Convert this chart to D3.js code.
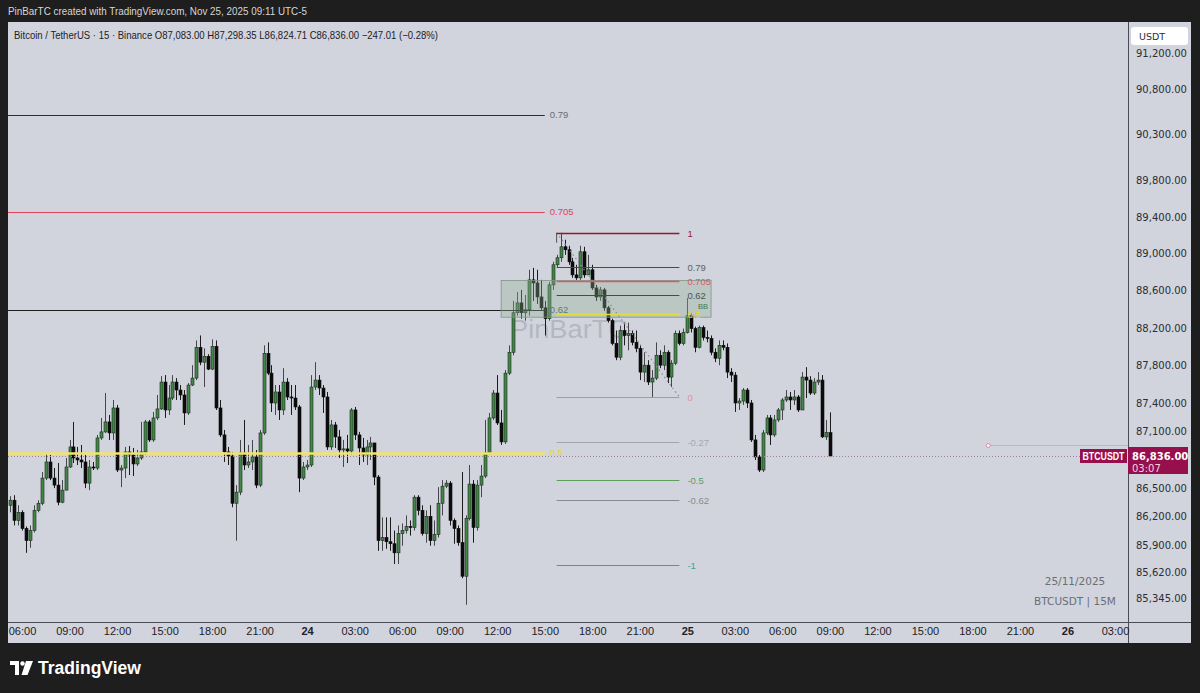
<!DOCTYPE html>
<html><head><meta charset="utf-8">
<script src="https://cdn.jsdelivr.net/npm/d3@7"></script>
<style>html,body{margin:0;padding:0;background:#1e1e1e;}svg{display:block;}</style>
</head><body>
<svg id="c" width="1200" height="693"></svg>
<script>
// ---------------- DATA ----------------
const closes = [
86370,86158,86243,86073,85946,86052,86264,86338,86603,86773,
86603,86529,86349,86476,86720,86932,86815,86794,86773,86550,
86720,86709,87027,87091,87197,87080,87345,86688,86709,86879,
86847,86752,86815,86879,87197,87006,87239,87335,87621,87324,
87451,87621,87536,87483,87292,87589,87663,87992,87833,87896,
87759,88002,87345,87059,86879,86836,86338,86455,86868,86741,
86773,86826,86529,87080,87928,87716,87398,87515,87324,87621,
87462,87451,87356,86603,86720,86741,87568,87642,87557,87462,
86932,87165,87038,86900,86911,86889,87324,87059,86921,86847,
86932,86974,86614,85946,85978,85935,85914,85819,86020,86052,
86094,86084,86402,86264,86020,86200,85946,86010,86338,86518,
86550,86158,86073,85925,85575,86179,86540,86084,86529,86624,
86868,87239,87504,87186,86985,87716,87939,88363,88469,88363,
88395,88717,88684,88533,88416,88299,88663,88880,88956,89075,
89043,88912,88771,88739,89021,88771,88826,88630,88533,88609,
88416,88278,88034,87886,88172,88119,88140,88045,87981,87727,
87801,87621,87663,87907,87801,87939,87674,87822,88140,88034,
88151,88331,88193,87992,88204,88098,88087,87939,87875,88013,
87992,87727,87695,87398,87419,87536,87398,87006,86826,86688,
87080,87239,87059,87218,87324,87430,87462,87430,87462,87324,
87674,87642,87504,87621,87642,87038,87083,86836
];
const highs = [
86412,86423,86317,86264,86094,86105,86317,86370,86667,86868,
86847,86709,86762,86582,86815,87006,87197,86932,86953,86847,
86794,86773,87059,87239,87504,87271,87430,87377,86741,86932,
86942,86921,86900,87197,87218,87218,87303,87483,87684,87695,
87589,87695,87663,87589,87536,87610,87801,88066,88119,87981,
87918,88077,88066,87430,87112,86932,86879,86529,87006,87218,
86953,87006,86900,87112,88013,88045,87801,87589,87589,87769,
87663,87589,87589,87377,86773,86794,87695,87833,87695,87589,
87515,87218,87197,87112,87006,87059,87345,87356,87091,87027,
87006,87038,86974,86635,86190,86190,86190,86052,86105,86126,
86211,86158,86423,86423,86317,86264,86317,86158,86508,86582,
86582,86571,86179,86105,86667,86211,86741,86582,86582,86741,
87218,87292,87536,87695,87324,87748,88013,88490,88587,88609,
88554,88826,88847,88826,88717,88490,88695,88912,88988,89227,
89151,89086,88956,88880,89086,89075,88988,88880,88663,88641,
88630,88437,88299,88172,88225,88257,88257,88172,88172,88013,
87939,87854,87748,88045,87960,88013,87960,87854,88172,88172,
88193,88522,88363,88214,88225,88225,88172,88119,87981,88066,
88066,88034,87769,87727,87451,87557,87557,87430,87059,86847,
87112,87271,87271,87271,87345,87451,87536,87515,87536,87483,
87727,87780,87684,87663,87727,87695,87218,87298.35
];
const lows = [
86243,86105,86105,86052,85819,85872,86031,86243,86317,86582,
86582,86497,86317,86338,86476,86709,86762,86741,86709,86497,
86476,86688,86688,87006,87080,87006,87006,86667,86508,86603,
86635,86624,86730,86794,86847,86985,86985,87218,87324,87239,
87271,87430,87430,87430,87165,87271,87578,87642,87801,87568,
87748,87748,87324,87038,86773,86741,86296,85946,86423,86688,
86709,86688,86497,86508,87059,87695,87303,87271,87218,87271,
87430,87271,87324,86455,86582,86688,86720,87536,87483,87292,
86900,86900,86921,86815,86720,86762,86847,87006,86741,86773,
86741,86794,86529,85840,85840,85861,85840,85702,85702,85893,
86020,85999,86052,86211,85999,85925,85893,85893,85978,86211,
86497,86105,85914,85893,85554,85278,86158,85925,86052,86402,
86603,86847,87218,87165,86953,86964,87695,87907,88331,88299,
88278,88331,88490,88458,88384,88119,88278,88609,88847,88912,
88988,88880,88739,88717,88717,88739,88771,88609,88490,88490,
88384,88257,88013,87854,87854,88013,87960,88013,87939,87642,
87621,87589,87462,87642,87769,87748,87610,87568,87801,88013,
88013,88140,88151,87939,87981,88066,88045,87907,87833,87801,
87960,87663,87621,87303,87324,87377,87345,86985,86794,86667,
86667,87059,86953,87038,87197,87218,87409,87324,87377,87303,
87345,87451,87483,87483,87589,87027,87006,86824.71
];
// each candle opens at the previous candle's close (continuous 24h market)
const firstOpen = 86317;
const opens = [firstOpen, ...closes.slice(0, -1)];

const priceTicks = [91200, 90800, 90300, 89800, 89400, 89000, 88600, 88200, 87800, 87400, 87100, 86500, 86200, 85900, 85620, 85345];

// Fibonacci retracement on the right (swing high / swing low)
const fibHigh = 89227, fibLow = 87462;
const fibLevels = [1, 0.79, 0.705, 0.62, 0.5, 0, -0.27, -0.5, -0.62, -1];
const fibLabels = ["1", "0.79", "0.705", "0.62", "0.5", "0", "-0.27", "-0.5", "-0.62", "-1"];
const fibColors = ["#8e1b2e", "#4a4a4e", "#e0566a", "#4a4a4e", "#e6dc3c", "#e57d8c", "#a3a5ad", "#5c9e5c", "#8a8b92", "#3aa39a"];
const fibLabelColors = ["#9c2236", "#5e5f66", "#e0566a", "#505158", "#e2d43a", "#e88e9a", "#a6a8b0", "#5c9e5c", "#8a8b92", "#3aa39a"];

// Larger Fibonacci lines on the left
const leftFibPrices = [90515, 89453, 88393, 86870];
const leftFibLabels = ["0.79", "0.705", "0.62", "0.5"];
const leftFibColors = ["#2e2e32", "#e0425a", "#1f1f22", "#f0e46a"];
const leftFibLabelColors = ["#6a6b72", "#e0425a", "#55565c", "#e2d43a"];

const boxPrices = [88710, 88315];
const lastPrice = 86836;
const alertPrice = 86953;

// ---------------- LAYOUT ----------------
const svg = d3.select('#c');
const paneL = 8, paneR = 1128, paneT = 22, paneB = 622, axisR = 1191, axisB = 643;
const T = (d, h, m) => new Date(Date.UTC(2025, 10, d, h, m || 0));

const x = d3.scaleUtc().domain([T(23, 6), T(26, 3)]).range([22, 1115]);
const y = d3.scaleLog().domain([85110, 91545]).range([621, 22]);

const n = closes.length;
const lastTime = T(25, 9);
const times = closes.map((_, i) => new Date(+lastTime - (n - 1 - i) * 15 * 60000));

svg.append('rect').attr('width', 1200).attr('height', 693).attr('fill', '#1e1e1e');
svg.append('rect').attr('x', paneL).attr('y', paneT).attr('width', axisR - paneL).attr('height', axisB - paneT).attr('fill', '#d1d4dc');

const defs = svg.append('defs');
defs.append('clipPath').attr('id', 'pane').append('rect')
  .attr('x', paneL).attr('y', paneT).attr('width', paneR - paneL).attr('height', paneB - paneT);

// top caption
svg.append('text').attr('x', 8).attr('y', 15).attr('fill', '#d6d6d6')
  .attr('font-family', "'Liberation Sans Narrow','Liberation Sans',sans-serif").attr('font-size', 11.5)
  .attr('textLength', 299).attr('lengthAdjust', 'spacingAndGlyphs')
  .text('PinBarTC created with TradingView.com, Nov 25, 2025 09:11 UTC-5');

const g = svg.append('g').attr('clip-path', 'url(#pane)');

// watermark
g.append('text').attr('x', 510).attr('y', 338).attr('fill', '#8f929c').attr('fill-opacity', 0.45)
  .attr('font-family', "'Liberation Sans',Arial,sans-serif").attr('font-size', 26)
  .attr('textLength', 118).attr('lengthAdjust', 'spacingAndGlyphs')
  .text('PinBarTC');

// candles
const up = i => closes[i] >= opens[i];
const bw = 3;
const cg = g.append('g');
cg.selectAll('line.wick').data(d3.range(n)).join('line')
  .attr('x1', i => Math.round(x(times[i])) + 0.5).attr('x2', i => Math.round(x(times[i])) + 0.5)
  .attr('y1', i => y(Math.max(highs[i], opens[i], closes[i])))
  .attr('y2', i => y(Math.min(lows[i], opens[i], closes[i])))
  .attr('stroke', i => up(i) ? '#45474d' : '#1c1c1c').attr('stroke-width', 1);
cg.selectAll('rect.body').data(d3.range(n)).join('rect')
  .attr('x', i => Math.round(x(times[i])) + 0.5 - bw / 2)
  .attr('width', bw)
  .attr('y', i => y(Math.max(opens[i], closes[i])))
  .attr('height', i => Math.max(1, Math.abs(y(opens[i]) - y(closes[i]))))
  .attr('fill', i => up(i) ? '#438748' : '#0c0c0c')
  .attr('stroke', i => up(i) ? '#1d2a1e' : '#0c0c0c').attr('stroke-width', 0.6);

// left fib lines
const leftEnd = T(24, 15);
leftFibPrices.forEach((p, k) => {
  g.append('line').attr('x1', paneL).attr('x2', x(leftEnd))
    .attr('y1', Math.round(y(p)) + 0.5).attr('y2', Math.round(y(p)) + 0.5)
    .attr('stroke', leftFibColors[k]).attr('stroke-width', k === 3 ? 2.5 : 1);
  g.append('text').attr('x', x(leftEnd) + 5).attr('y', y(p) + 3.5)
    .attr('fill', leftFibLabelColors[k]).attr('font-family', "'Liberation Sans',Arial,sans-serif")
    .attr('font-size', 9.5).text(leftFibLabels[k]);
});

// BB box
const boxT0 = T(24, 12, 15), boxT1 = T(25, 1, 30);
g.append('rect').attr('x', x(boxT0)).attr('width', x(boxT1) - x(boxT0))
  .attr('y', y(boxPrices[0])).attr('height', y(boxPrices[1]) - y(boxPrices[0]))
  .attr('fill', '#8fae96').attr('fill-opacity', 0.35).attr('stroke', '#7f9684').attr('stroke-width', 0.8);
g.append('text').attr('x', x(boxT1) - 3).attr('y', y(boxPrices[1]) - 8)
  .attr('fill', '#3f7a4a').attr('font-family', "'Liberation Sans',Arial,sans-serif").attr('font-size', 7.5)
  .attr('text-anchor', 'end').text('BB');

// right fib
const fibT0 = T(24, 15, 45), fibT1 = T(24, 23, 30);
g.append('line').attr('x1', x(fibT0)).attr('x2', x(fibT1)).attr('y1', y(fibHigh)).attr('y2', y(fibLow))
  .attr('stroke', '#8a8b92').attr('stroke-width', 1.2).attr('stroke-dasharray', '1.5,3');
g.append('line').attr('x1', x(fibT0)).attr('x2', x(fibT0)).attr('y1', y(fibHigh)).attr('y2', y(fibHigh) + 10)
  .attr('stroke', '#555').attr('stroke-width', 1);
fibLevels.forEach((r, k) => {
  const p = fibLow + r * (fibHigh - fibLow);
  const yy = Math.round(y(p)) + 0.5;
  g.append('line').attr('x1', x(fibT0)).attr('x2', x(fibT1)).attr('y1', yy).attr('y2', yy)
    .attr('stroke', fibColors[k]).attr('stroke-width', (r === 0.705 || r === 0.5 || r === 1) ? 1.6 : 1.2);
  g.append('text').attr('x', x(fibT1) + 8).attr('y', yy + 3.5)
    .attr('fill', fibLabelColors[k]).attr('font-family', "'Liberation Sans',Arial,sans-serif")
    .attr('font-size', 9.5).text(fibLabels[k]);
});

// alert ray
const alertT = T(25, 19);
g.append('line').attr('x1', x(alertT)).attr('x2', paneR).attr('y1', Math.round(y(alertPrice)) + 0.5).attr('y2', Math.round(y(alertPrice)) + 0.5)
  .attr('stroke', '#e6a2bb').attr('stroke-width', 1);
g.append('circle').attr('cx', x(alertT)).attr('cy', Math.round(y(alertPrice)) + 0.5).attr('r', 2)
  .attr('fill', '#f4f4f6').attr('stroke', '#e08aa8').attr('stroke-width', 1);

// last price dotted line
g.append('line').attr('x1', paneL).attr('x2', 1080).attr('y1', Math.round(y(lastPrice)) + 0.5).attr('y2', Math.round(y(lastPrice)) + 0.5)
  .attr('stroke', '#a0859a').attr('stroke-width', 1).attr('stroke-dasharray', '1,2');

// header symbol line
svg.append('text').attr('x', 14).attr('y', 39).attr('fill', '#1e2029')
  .attr('font-family', "'Liberation Sans Narrow','Liberation Sans',sans-serif").attr('font-size', 10.5)
  .attr('textLength', 424).attr('lengthAdjust', 'spacingAndGlyphs')
  .text('Bitcoin / TetherUS \u00b7 15 \u00b7 Binance  O87,083.00  H87,298.35  L86,824.71  C86,836.00  \u2212247.01 (\u22120.28%)');

// bottom right info
svg.append('text').attr('x', 1075).attr('y', 585).attr('text-anchor', 'middle').attr('fill', '#6b6e78')
  .attr('font-family', "'DejaVu Sans',sans-serif").attr('font-size', 10.5).text('25/11/2025');
svg.append('text').attr('x', 1075).attr('y', 605).attr('text-anchor', 'middle').attr('fill', '#6b6e78')
  .attr('font-family', "'DejaVu Sans',sans-serif").attr('font-size', 10.5).text('BTCUSDT | 15M');

// separators
svg.append('line').attr('x1', paneR + 0.5).attr('x2', paneR + 0.5).attr('y1', paneT).attr('y2', axisB).attr('stroke', '#4a4c55');
svg.append('line').attr('x1', paneL).attr('x2', axisR).attr('y1', paneB + 0.5).attr('y2', paneB + 0.5).attr('stroke', '#4a4c55');

// price axis
const ya = svg.append('g').attr('transform', `translate(${paneR},0)`)
  .call(d3.axisRight(y).tickValues(priceTicks).tickFormat(d3.format(',.2f')).tickSize(0).tickPadding(8));
ya.select('.domain').remove();
ya.selectAll('text').attr('fill', '#2a2d36').attr('font-family', "'DejaVu Sans',sans-serif").attr('font-size', 10);

// time axis
const tickTimes = d3.utcHour.every(3).range(T(23, 6), T(26, 4));
const xa = svg.append('g').attr('transform', `translate(0,${paneB})`)
  .call(d3.axisBottom(x).tickValues(tickTimes)
    .tickFormat(d => d.getUTCHours() === 0 ? String(d.getUTCDate()) : d3.utcFormat('%H:%M')(d))
    .tickSize(0).tickPadding(5));
xa.select('.domain').remove();
xa.selectAll('text').attr('fill', '#1e2029').attr('font-family', "'Liberation Sans Narrow','Liberation Sans',sans-serif")
  .attr('font-size', 11).attr('font-weight', d => d.getUTCHours() === 0 ? 'bold' : 'normal');
svg.append('rect').attr('x', 0).attr('y', paneB + 1).attr('width', paneL).attr('height', axisB - paneB).attr('fill', '#1e1e1e');

// USDT box
svg.append('rect').attr('x', 1131).attr('y', 27).attr('width', 57).attr('height', 18).attr('rx', 3).attr('fill', '#ffffff');
svg.append('text').attr('x', 1139).attr('y', 40).attr('fill', '#2a2d36')
  .attr('font-family', "'DejaVu Sans',sans-serif").attr('font-size', 9.5).text('USDT');

// last price labels
const ly = y(lastPrice);
svg.append('rect').attr('x', 1080).attr('y', ly - 7).attr('width', 47).attr('height', 14).attr('fill', '#970f4d');
svg.append('text').attr('x', 1103.5).attr('y', ly + 3.5).attr('text-anchor', 'middle').attr('fill', '#fff')
  .attr('font-family', "'Liberation Sans Narrow','Liberation Sans',sans-serif").attr('font-weight', 'bold').attr('font-size', 10.5)
  .attr('textLength', 42).attr('lengthAdjust', 'spacingAndGlyphs').text('BTCUSDT');
svg.append('rect').attr('x', 1128).attr('y', ly - 9).attr('width', 60).attr('height', 27).attr('fill', '#970f4d');
svg.append('text').attr('x', 1132).attr('y', ly + 3.5).attr('fill', '#fff')
  .attr('font-family', "'DejaVu Sans',sans-serif").attr('font-size', 10).attr('font-weight', 'bold').text(d3.format(',.2f')(lastPrice));
svg.append('text').attr('x', 1132).attr('y', ly + 15.5).attr('fill', '#f3d6e2')
  .attr('font-family', "'DejaVu Sans',sans-serif").attr('font-size', 10).text('03:07');

// TradingView logo
const logo = svg.append('g').attr('fill', '#ffffff');
logo.append('path').attr('d', 'M10,661 H19 V675 H15 V665 H10 Z');
logo.append('circle').attr('cx', 22.5).attr('cy', 663.5).attr('r', 2.2);
logo.append('path').attr('d', 'M26,661 H33 L27.5,675 H21.5 Z');
svg.append('text').attr('x', 38).attr('y', 674).attr('fill', '#ffffff')
  .attr('font-family', "'Liberation Sans Narrow','Liberation Sans',sans-serif").attr('font-size', 18).attr('font-weight', 'bold')
  .attr('textLength', 103).attr('lengthAdjust', 'spacingAndGlyphs').text('TradingView');
</script>
</body></html>
